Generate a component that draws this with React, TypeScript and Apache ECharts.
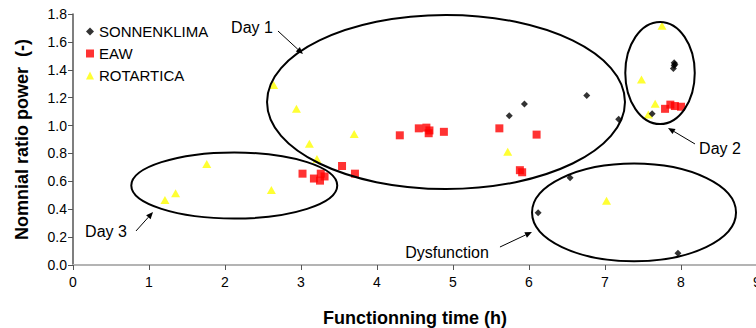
import React, { useEffect, useRef } from "react";
import * as echarts from "echarts";

const xTicks = [0, 1, 2, 3, 4, 5, 6, 7, 8, 9];
const yTicks = [0, 0.2, 0.4, 0.6, 0.8, 1.0, 1.2, 1.4, 1.6, 1.8];

const sonnenX = [5.74, 5.94, 6.76, 7.18, 7.62, 7.9, 7.91, 7.92, 7.91, 6.54, 6.12, 7.96];
const sonnenY = [1.07, 1.155, 1.215, 1.045, 1.085, 1.41, 1.45, 1.44, 1.43, 0.625, 0.375, 0.085];

const eawX = [3.02, 3.17, 3.26, 3.31, 3.25, 3.54, 3.71, 4.3, 4.55, 4.65, 4.69, 4.68, 4.88, 5.61, 6.1, 5.88, 5.91, 7.79, 7.86, 7.92, 8.0];
const eawY = [0.655, 0.62, 0.655, 0.635, 0.605, 0.71, 0.655, 0.93, 0.98, 0.985, 0.965, 0.945, 0.955, 0.98, 0.935, 0.68, 0.665, 1.12, 1.15, 1.14, 1.135];

const rotX = [1.21, 1.35, 1.76, 2.61, 2.64, 2.94, 3.11, 3.21, 3.7, 5.72, 7.02, 7.48, 7.57, 7.66, 7.75];
const rotY = [0.466, 0.514, 0.725, 0.538, 1.29, 1.12, 0.87, 0.76, 0.94, 0.813, 0.46, 1.33, 1.08, 1.157, 1.715];

// annotation ellipses: center (data), radii (data units)
const ellipseCx = [4.908, 7.724, 2.122, 7.382];
const ellipseCy = [1.169, 1.377, 0.57, 0.377];
const ellipseRx = [2.355, 0.457, 1.355, 1.342];
const ellipseRy = [0.624, 0.366, 0.237, 0.351];

const labelTexts = ["Day 1", "Day 2", "Day 3", "Dysfunction"];
const labelX = [2.355, 8.513, 0.434, 4.921];
const labelY = [1.7, 0.839, 0.237, 0.093];
const arrowFromX = [2.697, 8.184, 0.829, 5.618];
const arrowFromY = [1.678, 0.868, 0.244, 0.129];
const arrowToX = [3.026, 7.829, 1.053, 6.039];
const arrowToY = [1.513, 0.983, 0.38, 0.237];

const FONT = "'Liberation Sans', Arial, Helvetica, sans-serif";

const zip = (xs: number[], ys: number[]) => xs.map((x, i) => [x, ys[i]]);

export default function App() {
  const ref = useRef<HTMLDivElement>(null);
  useEffect(() => {
    if (!ref.current) return;
    const chart = echarts.init(ref.current, undefined, { renderer: "svg" });
    chart.setOption({
      animation: false,
      grid: { left: 73, top: 14, width: 684, height: 251, containLabel: false, outerBoundsMode: "none" },
      legend: {
        orient: "vertical",
        left: 86,
        top: 24,
        padding: 0,
        itemWidth: 8,
        itemHeight: 8,
        itemGap: 7,
        textStyle: { fontFamily: FONT, fontSize: 15, color: "#000" },
        data: [
          { name: "SONNENKLIMA", icon: "diamond" },
          { name: "EAW", icon: "rect" },
          { name: "ROTARTICA", icon: "triangle" },
        ],
      },
      xAxis: [
        {
          type: "value",
          min: 0,
          max: 9,
          interval: 1,
          name: "Functionning time (h)",
          nameLocation: "middle",
          nameGap: 44,
          nameTextStyle: { fontFamily: FONT, fontSize: 18, fontWeight: "bold", color: "#000" },
          axisLine: { onZero: false, lineStyle: { color: "#555", width: 2 } },
          axisTick: { show: true, length: 5, lineStyle: { color: "#555" } },
          axisLabel: { fontFamily: FONT, fontSize: 14, color: "#000", margin: 10, formatter: (v: number) => String(v) },
          splitLine: { show: false },
          data: xTicks,
        },
        {
          type: "value",
          position: "top",
          min: 0,
          max: 9,
          axisLine: { show: true, lineStyle: { color: "#b4b4b4", width: 2 } },
          axisTick: { show: false },
          axisLabel: { show: false },
          splitLine: { show: false },
        },
      ],
      yAxis: {
        type: "value",
        min: 0,
        max: 1.8,
        interval: 0.2,
        name: "Nomnial ratio power  (-)",
        nameLocation: "middle",
        nameGap: 42,
        nameTextStyle: { fontFamily: FONT, fontSize: 18, fontWeight: "bold", color: "#000" },
        axisLine: { show: true, lineStyle: { color: "#555", width: 1.5 } },
        axisTick: { show: true, length: 5, lineStyle: { color: "#555" } },
        axisLabel: { fontFamily: FONT, fontSize: 14, color: "#000", margin: 6, formatter: (v: number) => v.toFixed(1) },
        splitLine: { show: false },
        data: yTicks,
      },
      series: [
        {
          name: "SONNENKLIMA",
          type: "scatter",
          symbol: "diamond",
          symbolSize: 7,
          itemStyle: { color: "#000" },
          data: zip(sonnenX, sonnenY),
          z: 3,
        },
        {
          name: "EAW",
          type: "scatter",
          symbol: "rect",
          symbolSize: 8,
          itemStyle: { color: "#ff0000" },
          data: zip(eawX, eawY),
          z: 2,
        },
        {
          name: "ROTARTICA",
          type: "scatter",
          symbol: "triangle",
          symbolSize: [9, 8],
          itemStyle: { color: "#ffff00" },
          data: zip(rotX, rotY),
          z: 2,
        },
      ],
    });

    const px = (x: number, y: number) => chart.convertToPixel({ gridIndex: 0 }, [x, y]) as number[];
    const graphics: any[] = [];
    ellipseCx.forEach((cx, i) => {
      const c = px(cx, ellipseCy[i]);
      const r = px(cx + ellipseRx[i], ellipseCy[i] + ellipseRy[i]);
      graphics.push({
        type: "ellipse",
        shape: { cx: c[0], cy: c[1], rx: Math.abs(r[0] - c[0]), ry: Math.abs(c[1] - r[1]) },
        style: { fill: "none", stroke: "#000", lineWidth: 2 },
        z: 10,
        silent: true,
      });
    });
    labelTexts.forEach((t, i) => {
      const p = px(labelX[i], labelY[i]);
      graphics.push({
        type: "text",
        x: p[0],
        y: p[1],
        style: { text: t, fontFamily: FONT, fontSize: 16, fill: "#000", align: "center", verticalAlign: "middle" },
        z: 10,
        silent: true,
      });
      const a = px(arrowFromX[i], arrowFromY[i]);
      const b = px(arrowToX[i], arrowToY[i]);
      const ang = Math.atan2(b[1] - a[1], b[0] - a[0]);
      const hl = 7;
      const hw = 3;
      const bx = b[0] - hl * Math.cos(ang);
      const by = b[1] - hl * Math.sin(ang);
      graphics.push({
        type: "line",
        shape: { x1: a[0], y1: a[1], x2: bx, y2: by },
        style: { stroke: "#000", lineWidth: 1 },
        z: 10,
        silent: true,
      });
      graphics.push({
        type: "polygon",
        shape: {
          points: [
            [b[0], b[1]],
            [bx - hw * Math.sin(ang), by + hw * Math.cos(ang)],
            [bx + hw * Math.sin(ang), by - hw * Math.cos(ang)],
          ],
        },
        style: { fill: "#000" },
        z: 10,
        silent: true,
      });
    });
    chart.setOption({ graphic: graphics });

    return () => chart.dispose();
  }, []);
  return <div ref={ref} style={{ width: 756, height: 328, position: "absolute", left: 0, top: 0 }} />;
}
